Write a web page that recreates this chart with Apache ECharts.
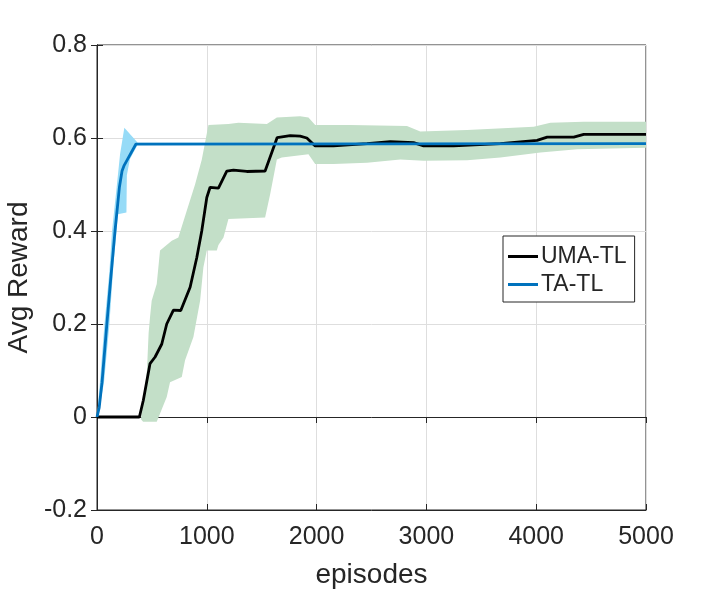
<!DOCTYPE html>
<html>
<head>
<meta charset="utf-8">
<script src="https://cdn.jsdelivr.net/npm/echarts@6.0.0/dist/echarts.min.js"></script>
<style>
html, body { margin: 0; padding: 0; background: #fff; }
#main { width: 715px; height: 591px; }
</style>
</head>
<body>
<div id="main"></div>
<script>
// UMA-TL mean curve
var umaX = [0, 386, 422, 483, 529, 590, 635, 696, 763, 848, 909, 954, 1000, 1030, 1106, 1182, 1243, 1364, 1531, 1641, 1759, 1850, 1911, 1987, 2154, 2459, 2671, 2883, 2975, 3248, 3674, 4008, 4100, 4342, 4433, 5000];
var umaY = [0, 0, 0.036, 0.115, 0.129, 0.157, 0.2, 0.23, 0.229, 0.279, 0.343, 0.4, 0.472, 0.494, 0.492, 0.529, 0.531, 0.528, 0.529, 0.601, 0.605, 0.604, 0.6, 0.583, 0.583, 0.588, 0.592, 0.59, 0.583, 0.583, 0.588, 0.595, 0.602, 0.602, 0.608, 0.608];

// UMA-TL band (upper edge, lower edge)
var umaUpX = [400, 455, 470, 483, 498, 544, 574, 681, 741, 818, 893, 954, 1015, 1197, 1288, 1547, 1638, 1850, 1926, 1987, 2306, 2823, 2944, 3370, 3977, 4129, 4433, 5000];
var umaUpY = [-0.005, 0.1, 0.18, 0.215, 0.25, 0.286, 0.358, 0.379, 0.386, 0.444, 0.5, 0.553, 0.628, 0.63, 0.633, 0.63, 0.644, 0.647, 0.644, 0.628, 0.628, 0.626, 0.614, 0.617, 0.624, 0.633, 0.635, 0.635];
var umaLoX = [420, 544, 635, 665, 772, 802, 878, 939, 969, 1000, 1091, 1106, 1152, 1197, 1531, 1577, 1638, 1683, 1926, 1987, 2154, 2459, 2762, 2975, 3370, 3674, 4038, 4373, 5000];
var umaLoY = [-0.01, -0.01, 0.043, 0.075, 0.086, 0.122, 0.172, 0.25, 0.322, 0.358, 0.358, 0.37, 0.386, 0.426, 0.429, 0.479, 0.554, 0.558, 0.565, 0.544, 0.544, 0.547, 0.554, 0.551, 0.552, 0.558, 0.569, 0.576, 0.579];

// TA-TL mean curve
var taX = [0, 20, 46, 88, 128, 164, 204, 228, 245, 355, 370, 5000];
var taY = [0, 0.02, 0.075, 0.195, 0.305, 0.4, 0.494, 0.529, 0.54, 0.587, 0.588, 0.588];

// TA-TL band
var taUpX = [0, 27, 67, 112, 137, 179, 210, 249, 371, 5000];
var taUpY = [0, 0.075, 0.197, 0.31, 0.4, 0.494, 0.565, 0.622, 0.59, 0.59];
var taLoX = [8, 64, 112, 149, 178, 190, 268, 272, 300, 371, 5000];
var taLoY = [0, 0.075, 0.197, 0.325, 0.4, 0.436, 0.44, 0.52, 0.555, 0.586, 0.586];

var xTicks = [0, 1000, 2000, 3000, 4000, 5000];
var yTicks = [-0.2, 0, 0.2, 0.4, 0.6, 0.8];

function zip(xs, ys) {
    return xs.map(function (x, i) { return [x, ys[i]]; });
}

function bandPolygon(upX, upY, loX, loY) {
    var pts = zip(upX, upY);
    var lo = zip(loX, loY).reverse();
    return pts.concat(lo);
}

function bandSeries(poly, color) {
    return {
        type: 'custom',
        silent: true,
        z: 1,
        data: [[0, 0]],
        renderItem: function (params, api) {
            var points = poly.map(function (p) { return api.coord(p); });
            return {
                type: 'polygon',
                shape: { points: points },
                style: { fill: color }
            };
        }
    };
}

var font = 'Liberation Sans, Arial, sans-serif';
var txt = '#262626';

var myChart = echarts.init(document.getElementById('main'));

var option = {
    animation: false,
    backgroundColor: '#fff',
    grid: {
        left: 97,
        right: 69,
        top: 45,
        bottom: 81,
        outerBoundsMode: 'none',
        containLabel: false,
        show: true,
        borderColor: '#262626',
        borderWidth: 1
    },
    legend: {
        orient: 'vertical',
        left: 503,
        top: 236,
        data: ['UMA-TL', 'TA-TL'],
        icon: 'rect',
        itemWidth: 30,
        itemHeight: 3,
        itemGap: 5,
        padding: [9, 8, 6, 5],
        backgroundColor: '#fff',
        borderColor: '#262626',
        borderWidth: 1,
        borderRadius: 0,
        textStyle: { fontFamily: font, fontSize: 23, color: txt, padding: [0, 0, 0, -2] }
    },
    xAxis: [{
        type: 'value',
        min: 0,
        max: 5000,
        interval: 1000,
        name: 'episodes',
        nameLocation: 'middle',
        nameGap: 51,
        nameTextStyle: { fontFamily: font, fontSize: 28, color: txt },
        axisLine: { show: true, onZero: false, lineStyle: { color: '#262626' } },
        axisTick: { show: true, inside: true, length: 6, lineStyle: { color: '#262626' } },
        axisLabel: {
            fontFamily: font, fontSize: 25, color: txt, margin: 15,
            formatter: function (v) { return xTicks.indexOf(v) >= 0 ? String(v) : ''; }
        },
        splitLine: { show: true, lineStyle: { color: '#dedede' } }
    }, {
        type: 'value',
        position: 'top',
        min: 0,
        max: 5000,
        interval: 1000,
        axisLine: { show: true, lineStyle: { color: '#262626' } },
        axisTick: { show: true, inside: true, length: 6, lineStyle: { color: '#262626' } },
        axisLabel: { show: false },
        splitLine: { show: false }
    }],
    yAxis: [{
        type: 'value',
        min: -0.2,
        max: 0.8,
        interval: 0.2,
        name: 'Avg Reward',
        nameLocation: 'middle',
        nameGap: 58,
        nameTextStyle: { fontFamily: font, fontSize: 28, color: txt },
        axisLine: { show: true, onZero: false, lineStyle: { color: '#262626' } },
        axisTick: { show: true, inside: true, length: 6, lineStyle: { color: '#262626' } },
        axisLabel: {
            fontFamily: font, fontSize: 25, color: txt, margin: 10,
            formatter: function (v) { return String(Math.round(v * 10) / 10); }
        },
        splitLine: { show: true, lineStyle: { color: '#dedede' } }
    }, {
        type: 'value',
        position: 'right',
        min: -0.2,
        max: 0.8,
        interval: 0.2,
        axisLine: { show: true, lineStyle: { color: '#262626' } },
        axisTick: { show: true, inside: true, length: 6, lineStyle: { color: '#262626' } },
        axisLabel: { show: false },
        splitLine: { show: false }
    }],
    series: [
        bandSeries(bandPolygon(umaUpX, umaUpY, umaLoX, umaLoY), '#c3dfc8'),
        bandSeries(bandPolygon(taUpX, taUpY, taLoX, taLoY), '#96dbf7'),
        {
            name: 'UMA-TL',
            type: 'line',
            z: 3,
            symbol: 'none',
            color: '#000000',
            lineStyle: { width: 2.8, color: '#000000' },
            data: zip(umaX, umaY)
        },
        {
            name: 'TA-TL',
            type: 'line',
            z: 4,
            symbol: 'none',
            color: '#0072bd',
            lineStyle: { width: 2.8, color: '#0072bd' },
            data: zip(taX, taY)
        }
    ]
};

myChart.setOption(option);
</script>
</body>
</html>
